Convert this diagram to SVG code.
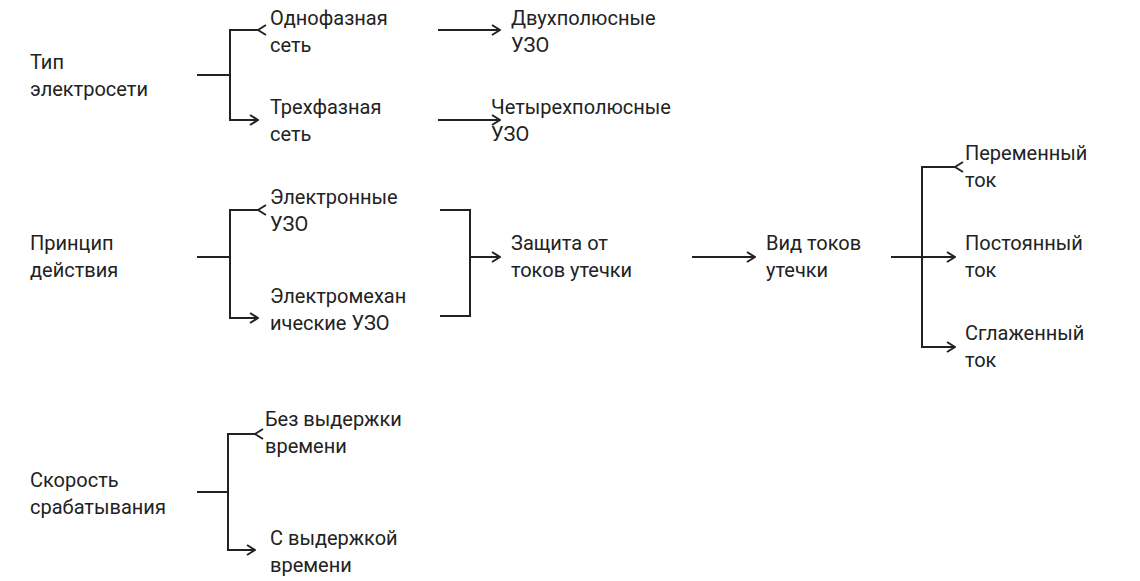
<svg xmlns="http://www.w3.org/2000/svg" width="1140" height="581" viewBox="0 0 1140 581">
<style>
text{font-family:Roboto,"Liberation Sans",sans-serif;font-size:20px;fill:#222}
.c{fill:none;stroke:#222;stroke-width:2}
</style>
<defs><marker id="a" viewBox="0 0 12 12" refX="11" refY="6" markerWidth="12" markerHeight="12" markerUnits="userSpaceOnUse" orient="auto"><path d="M3,1 L11,6 L3,11" fill="none" stroke="#222" stroke-width="2"/></marker></defs>
<rect width="1140" height="581" fill="#fff"/>
<g id="connectors">
<path class="c" d="M197,75H230"/><path class="c" d="M258,30H230V120H258" marker-start="url(#a)" marker-end="url(#a)"/>
<path class="c" d="M438,30H500" marker-end="url(#a)"/><path class="c" d="M438,120H500" marker-end="url(#a)"/>
<path class="c" d="M197,257H230"/><path class="c" d="M258,210H230V318H258" marker-start="url(#a)" marker-end="url(#a)"/>
<path class="c" d="M440,210H470V316H440"/><path class="c" d="M470,257H500" marker-end="url(#a)"/>
<path class="c" d="M692,257H755" marker-end="url(#a)"/>
<path class="c" d="M891,257H955" marker-end="url(#a)"/><path class="c" d="M955,167H922V347H955" marker-start="url(#a)" marker-end="url(#a)"/>
<path class="c" d="M197,492H228"/><path class="c" d="M255,434H228V550H255" marker-start="url(#a)" marker-end="url(#a)"/>
</g>
<g id="n1"><text x="30" y="69">Тип</text><text x="30" y="96">электросети</text></g>
<g id="n2"><text x="270" y="25">Однофазная</text><text x="270" y="52">сеть</text></g>
<g id="n3"><text x="511" y="25">Двухполюсные</text><text x="511" y="52">УЗО</text></g>
<g id="n4"><text x="270" y="114">Трехфазная</text><text x="270" y="141">сеть</text></g>
<g id="n5"><text x="491" y="114">Четырехполюсные</text><text x="491" y="141">УЗО</text></g>
<g id="n6"><text x="30" y="250">Принцип</text><text x="30" y="277">действия</text></g>
<g id="n7"><text x="270" y="204">Электронные</text><text x="270" y="231">УЗО</text></g>
<g id="n8"><text x="270" y="303">Электромехан</text><text x="270" y="330">ические УЗО</text></g>
<g id="n9"><text x="511" y="250">Защита от</text><text x="511" y="277">токов утечки</text></g>
<g id="n10"><text x="766" y="250">Вид токов</text><text x="766" y="277">утечки</text></g>
<g id="n11"><text x="965" y="160">Переменный</text><text x="965" y="187">ток</text></g>
<g id="n12"><text x="965" y="250">Постоянный</text><text x="965" y="277">ток</text></g>
<g id="n13"><text x="965" y="340">Сглаженный</text><text x="965" y="367">ток</text></g>
<g id="n14"><text x="30" y="487">Скорость</text><text x="30" y="514">срабатывания</text></g>
<g id="n15"><text x="265" y="426">Без выдержки</text><text x="265" y="453">времени</text></g>
<g id="n16"><text x="270" y="545">С выдержкой</text><text x="270" y="572">времени</text></g>
</svg>
